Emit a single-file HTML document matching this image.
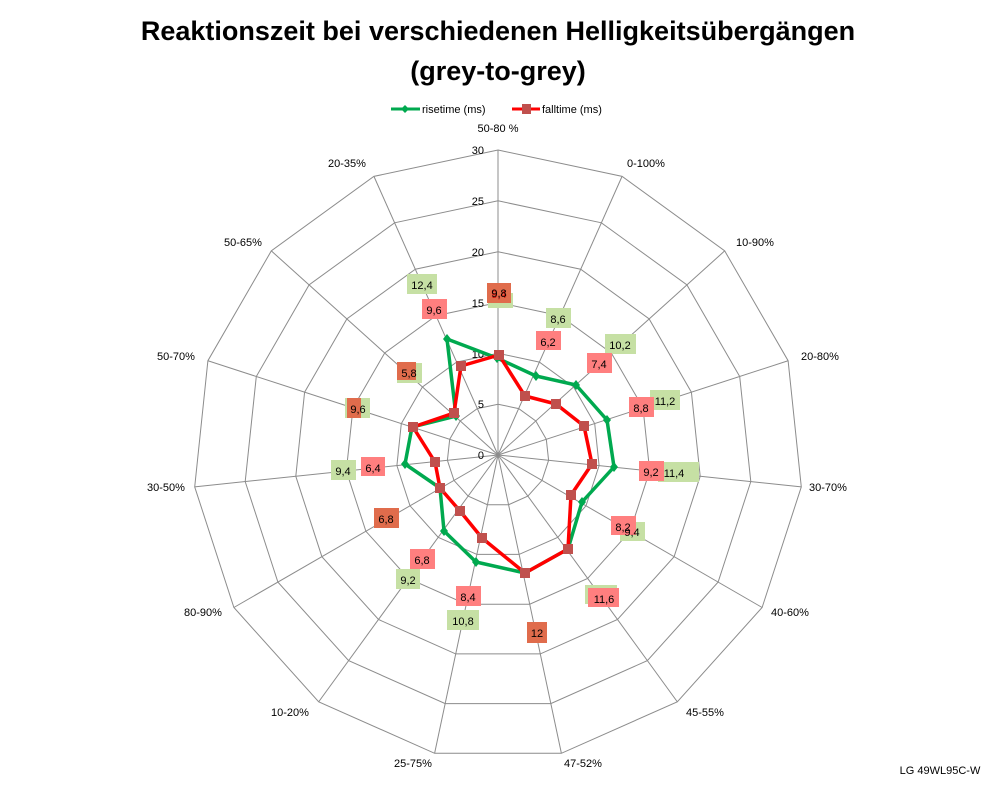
<!DOCTYPE html>
<html><head><meta charset="utf-8"><style>
body{margin:0;background:#fff}
svg{display:block;font-family:"Liberation Sans",sans-serif}
.t{font-size:11px;fill:#000}
.lab{font-size:11px;text-anchor:middle}
</style></head><body>
<svg id="s" width="998" height="786" viewBox="0 0 998 786" xmlns="http://www.w3.org/2000/svg">
<rect width="998" height="786" fill="#fff"/>
<text x="498" y="40" text-anchor="middle" font-size="27" font-weight="bold">Reaktionszeit bei verschiedenen Helligkeitsübergängen</text>
<text x="498" y="80" text-anchor="middle" font-size="27" font-weight="bold">(grey-to-grey)</text>
<line x1="391" y1="109" x2="420" y2="109" stroke="#00a94f" stroke-width="3"/>
<path d="M405,105 L409,109 405,113 401,109Z" fill="#00a94f"/>
<text x="422" y="113" class="t" font-size="11">risetime (ms)</text>
<line x1="512" y1="109" x2="540" y2="109" stroke="#ff0000" stroke-width="3"/>
<rect x="522" y="104" width="9" height="10" fill="#c0504d"/>
<text x="542" y="113" class="t">falltime (ms)</text>
<g id="grid" stroke="#8c8c8c" stroke-width="1" fill="none"></g>
<g font-size="11" text-anchor="end">
<text x="484" y="459">0</text><text x="484" y="408">5</text><text x="484" y="358">10</text><text x="484" y="307">15</text><text x="484" y="256">20</text><text x="484" y="205">25</text><text x="484" y="154">30</text>
</g>
<g class="lab" font-size="11" text-anchor="middle">
<text x="498" y="132">50-80 %</text><text x="646" y="167">0-100%</text><text x="755" y="246">10-90%</text><text x="820" y="360">20-80%</text><text x="828" y="491">30-70%</text><text x="790" y="616">40-60%</text><text x="705" y="716">45-55%</text><text x="583" y="767">47-52%</text><text x="413" y="767">25-75%</text><text x="290" y="716">10-20%</text><text x="203" y="616">80-90%</text><text x="166" y="491">30-50%</text><text x="176" y="360">50-70%</text><text x="243" y="246">50-65%</text><text x="347" y="167">20-35%</text>
</g>
<polygon points="497,358 536,376 576,385 607,420 614,467 582,502 568,549 525,573 476,562 444,531 440,488 405,464 412,427 456,416 447,339" fill="none" stroke="#00a94f" stroke-width="3.5" stroke-linejoin="round"/>
<g fill="#00a94f" id="gm"></g>
<polygon points="499,355 525,396 556,404 584,426 592,464 571,495 568,549 525,573 482,538 460,511 440,488 435,462 413,427 454,413 461,366" fill="none" stroke="#ff0000" stroke-width="3.5" stroke-linejoin="round"/>
<g fill="#c0504d" id="rm"></g>
<g font-size="11" text-anchor="middle">
<rect x="488" y="293" width="25" height="15" fill="#c6e0a4"/>
<rect x="487" y="283" width="24" height="20" fill="#e06c4c"/><text x="499" y="298" fill="#c00">9,4</text><text x="499" y="297">9,8</text>
<rect x="546" y="308" width="25" height="20" fill="#c6e0a4"/><text x="558" y="323">8,6</text>
<rect x="536" y="331" width="25" height="19" fill="#ff7f7f"/><text x="548" y="346">6,2</text>
<rect x="605" y="334" width="31" height="20" fill="#c6e0a4"/><text x="620" y="349">10,2</text>
<rect x="587" y="353" width="25" height="20" fill="#ff7f7f"/><text x="599" y="368">7,4</text>
<rect x="650" y="390" width="30" height="20" fill="#c6e0a4"/><text x="665" y="405">11,2</text>
<rect x="629" y="397" width="25" height="20" fill="#ff7f7f"/><text x="641" y="412">8,8</text>
<rect x="658" y="462" width="41" height="20" fill="#c6e0a4"/>
<rect x="639" y="461" width="25" height="20" fill="#ff7f7f"/><text x="651" y="476">9,2</text><text x="674" y="477">11,4</text>
<rect x="620" y="522" width="25" height="19" fill="#c6e0a4"/>
<rect x="611" y="516" width="25" height="19" fill="#ff7f7f"/><text x="623" y="531">8,2</text><text x="632" y="536">9,4</text>
<rect x="585" y="585" width="32" height="19" fill="#c6e0a4"/><text x="601" y="600" fill="#c00">11,2</text>
<rect x="588" y="588" width="31" height="19" fill="#ff7f7f"/><text x="604" y="603">11,6</text>
<rect x="527" y="622" width="20" height="21" fill="#e06c4c"/><text x="537" y="637">12</text>
<rect x="456" y="586" width="25" height="20" fill="#ff7f7f"/><text x="468" y="601">8,4</text>
<rect x="447" y="610" width="32" height="20" fill="#c6e0a4"/><text x="463" y="625">10,8</text>
<rect x="410" y="549" width="25" height="20" fill="#ff7f7f"/><text x="422" y="564">6,8</text>
<rect x="396" y="569" width="24" height="20" fill="#c6e0a4"/><text x="408" y="584">9,2</text>
<rect x="374" y="508" width="25" height="20" fill="#e06c4c"/><text x="386" y="523">6,8</text>
<rect x="331" y="460" width="25" height="20" fill="#c6e0a4"/><text x="343" y="475">9,4</text>
<rect x="361" y="457" width="24" height="19" fill="#ff7f7f"/><text x="373" y="472">6,4</text>
<rect x="345" y="398" width="25" height="20" fill="#c6e0a4"/>
<rect x="347" y="398" width="14" height="20" fill="#e06c4c"/><text x="358" y="413">9,6</text>
<rect x="397" y="363" width="25" height="20" fill="#c6e0a4"/>
<rect x="397" y="362" width="19" height="18" fill="#e06c4c"/><text x="409" y="377">5,8</text>
<rect x="422" y="299" width="25" height="20" fill="#ff7f7f"/><text x="434" y="314">9,6</text>
<rect x="407" y="274" width="30" height="20" fill="#c6e0a4"/><text x="422" y="289">12,4</text>
</g>
<text x="940" y="774" font-size="11" text-anchor="middle">LG 49WL95C-W</text>
</svg>
<script>
var ns="http://www.w3.org/2000/svg",cx=498,cy=455,R=305,g=document.getElementById("grid");
function pt(i,r){var a=i*24*Math.PI/180;return [cx+r*Math.sin(a),cy-r*Math.cos(a)];}
for(var k=1;k<=6;k++){var p=[];for(var i=0;i<15;i++){var q=pt(i,R*k/6);p.push(q[0].toFixed(1)+","+q[1].toFixed(1));}
var e=document.createElementNS(ns,"polygon");e.setAttribute("points",p.join(" "));g.appendChild(e);}
for(var i=0;i<15;i++){var q=pt(i,R);var l=document.createElementNS(ns,"line");l.setAttribute("x1",cx);l.setAttribute("y1",cy);l.setAttribute("x2",q[0]);l.setAttribute("y2",q[1]);g.appendChild(l);}
var gp="497,358 536,376 576,385 607,420 614,467 582,502 568,549 525,573 476,562 444,531 440,488 405,464 412,427 456,416 447,339".split(" ");
var rp="499,355 525,396 556,404 584,426 592,464 571,495 568,549 525,573 482,538 460,511 440,488 435,462 413,427 454,413 461,366".split(" ");
var gm=document.getElementById("gm"),rm=document.getElementById("rm");
gp.forEach(function(s){var c=s.split(",").map(Number);var e=document.createElementNS(ns,"path");e.setAttribute("d","M"+c[0]+","+(c[1]-5)+" L"+(c[0]+4)+","+c[1]+" "+c[0]+","+(c[1]+5)+" "+(c[0]-4)+","+c[1]+"Z");gm.appendChild(e);});
rp.forEach(function(s){var c=s.split(",").map(Number);var e=document.createElementNS(ns,"rect");e.setAttribute("x",c[0]-5);e.setAttribute("y",c[1]-5);e.setAttribute("width",10);e.setAttribute("height",10);rm.appendChild(e);});
</script>
</body></html>
